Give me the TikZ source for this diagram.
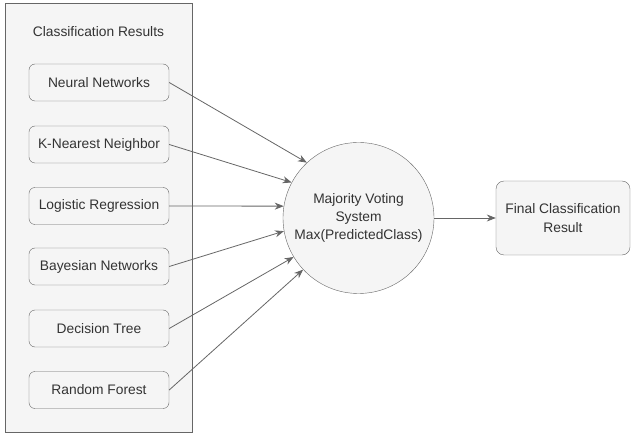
\documentclass[tikz,border=0pt]{standalone}
\usepackage{fontspec}
\setmainfont{Liberation Sans}
\usetikzlibrary{arrows.meta}
\definecolor{boxfill}{HTML}{F5F5F5}
\definecolor{boxline}{HTML}{666666}
\definecolor{boxtext}{HTML}{333333}

\begin{document}
\begin{tikzpicture}[x=1pt, y=-1pt,
    font=\fontsize{13.8}{18.4}\selectfont,
    group/.style ={rectangle, draw=boxline, fill=boxfill, minimum width=187pt, minimum height=429pt, inner sep=0pt},
    classifier/.style ={rectangle, rounded corners=6pt, draw=boxline, fill=boxfill, text=boxtext, minimum width=140pt, minimum height=37pt, inner sep=0pt},
    voting/.style ={circle, draw=boxline, fill=boxfill, text=boxtext, minimum size=151pt, inner sep=0pt, align=center},
    result/.style ={rectangle, rounded corners=8pt, draw=boxline, fill=boxfill, text=boxtext, minimum width=134pt, minimum height=74pt, align=center},
    vote/.style ={draw=boxline, line width=0.8pt, -{Stealth[length=9pt, width=7pt]}}]
   \useasboundingbox (0,0) rectangle (631,435);
   \node[group] (G) at (98.5,217.5) {};
   \node[text=boxtext] (T) at (98.5,32) {Classification Results};

   \node[classifier] (NN) at (99,82.5)  {Neural Networks};
   \node[classifier] (KNN) at (99,144.5) {K-Nearest Neighbor};
   \node[classifier] (LR) at (99,206)  {Logistic Regression};
   \node[classifier] (BN) at (99,266.5) {Bayesian Networks};
   \node[classifier] (DT) at (99,328.5) {Decision Tree};
   \node[classifier] (RF) at (99,390)  {Random Forest};

   \node[voting] (MV) at (358.5,218) {Majority Voting\\System\\Max(PredictedClass)};
   \node[result] (FR) at (563,218) {Final Classification\\Result};


   \draw[vote] (NN.east) to  (MV.133);
   \draw[vote] (KNN.east) to  (MV.152);
   \draw[vote] (LR.east) to  (MV.171);
   \draw[vote] (BN.east) to  (MV.190);
   \draw[vote] (DT.east) to  (MV.211);
   \draw[vote] (RF.east) to  (MV.223);
   \draw[vote] (MV) to  (FR);
 \end{tikzpicture}
\end{document}
